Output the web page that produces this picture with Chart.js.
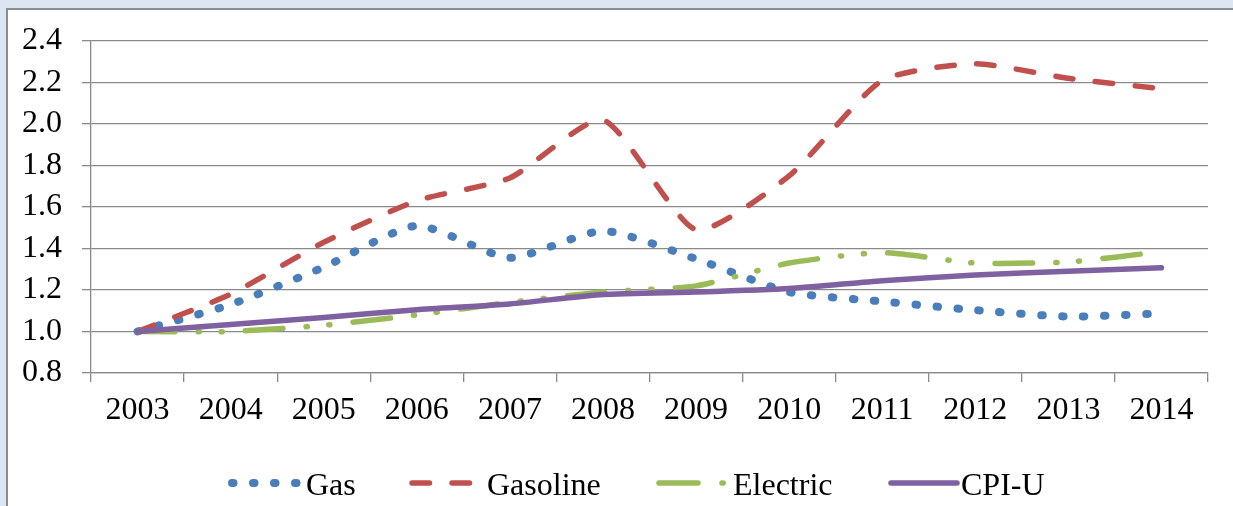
<!DOCTYPE html>
<html><head><meta charset="utf-8">
<script src="https://cdn.jsdelivr.net/npm/chart.js@4/dist/chart.umd.min.js"></script>
<style>
html,body{margin:0;padding:0;width:1233px;height:506px;overflow:hidden;background:#dce6f2;}
#panel{position:absolute;left:6px;top:8px;width:1227px;height:498px;background:#fff;border-left:2px solid #8c8c8c;border-top:2px solid #8c8c8c;box-sizing:border-box;}
canvas{position:absolute;left:0;top:0;}
</style></head><body>
<div id="panel"></div>
<canvas id="c" width="1233" height="506"></canvas>
<script>
const years = ['2003','2004','2005','2006','2007','2008','2009','2010','2011','2012','2013','2014'];
const gas = [1.00, 1.13, 1.31, 1.51, 1.355, 1.485, 1.35, 1.19, 1.145, 1.103, 1.072, 1.087];
const gasoline = [1.00, 1.18, 1.43, 1.63, 1.74, 2.02, 1.49, 1.75, 2.21, 2.29, 2.22, 2.17];
const electric = [1.00, 1.00, 1.03, 1.08, 1.14, 1.19, 1.22, 1.33, 1.38, 1.33, 1.335, 1.385];
const cpiU = [1.00, 1.034, 1.068, 1.105, 1.133, 1.178, 1.19, 1.207, 1.245, 1.272, 1.29, 1.307];
const seriesNames = ['Gas', 'Gasoline', 'Electric', 'CPI-U'];
const yTickLabels = ['0.8','1.0','1.2','1.4','1.6','1.8','2.0','2.2','2.4'];

const FONT = {family: "'Liberation Serif','Times New Roman',serif", size: 32};
const AXIS = '#8a8a8a';
const styles = [
  {color:'#4a7ebb', width:8, dash:[1.5,19.5]},
  {color:'#c0504d', width:5.5, dash:[17.5,22.5]},
  {color:'#9bbb59', width:5.5, dash:[37.5,23,1.2,21.8,1.2,23.3]},
  {color:'#7f60a0', width:5.5, dash:[]}
];

const legendPlugin = {
  id:'customLegend',
  afterDraw(chart){
    const ctx = chart.ctx;
    const items = [
      {x1:232, x2:298, tx:306, dash:[1.5,19.5]},
      {x1:412, x2:472, tx:487, dash:[17.5,22.5]},
      {x1:659, x2:725, tx:733, dash:[39,24,1.2,100]},
      {x1:891, x2:957, tx:961, dash:[]}
    ];
    const y = 483;
    items.forEach((it, i) => {
      const st = styles[i];
      ctx.save();
      ctx.strokeStyle = st.color;
      ctx.lineWidth = st.width;
      ctx.lineCap = 'round';
      ctx.setLineDash(it.dash);
      ctx.beginPath();
      ctx.moveTo(it.x1, y);
      ctx.lineTo(it.x2, y);
      ctx.stroke();
      ctx.restore();
      ctx.save();
      ctx.fillStyle = '#000';
      ctx.font = FONT.size + 'px ' + FONT.family;
      ctx.textBaseline = 'alphabetic';
      ctx.textAlign = 'left';
      ctx.fillText(seriesNames[i], it.tx, 495);
      ctx.restore();
    });
  }
};

const seriesData = [gas, gasoline, electric, cpiU];
const datasets = seriesData.map((d, i) => ({
  label: seriesNames[i],
  data: d,
  borderColor: styles[i].color,
  backgroundColor: styles[i].color,
  borderWidth: styles[i].width,
  borderDash: styles[i].dash,
  borderCapStyle: 'round',
  borderJoinStyle: 'round',
  pointRadius: 0,
  pointHoverRadius: 0,
  tension: 0.2,
  fill: false,
  order: 4 - i
}));

new Chart(document.getElementById('c'), {
  type: 'line',
  data: {labels: years, datasets},
  options: {
    responsive: false,
    animation: false,
    devicePixelRatio: 1,
    layout: {padding: {top: 41, right: 25, bottom: 0, left: 0}},
    plugins: {legend: {display: false}, tooltip: {enabled: false}},
    scales: {
      x: {
        offset: true,
        grid: {offset: true, drawOnChartArea: false, drawTicks: true, tickLength: 9, color: AXIS, lineWidth: 1.3},
        border: {color: AXIS, width: 1.3},
        ticks: {font: FONT, color: '#000', padding: 9, maxRotation: 0, autoSkip: false},
        afterFit(s){ s.height = 133; }
      },
      y: {
        min: 0.8, max: 2.4,
        grid: {color: AXIS, lineWidth: 1.3, tickLength: 9},
        border: {color: AXIS, width: 1.3},
        ticks: {stepSize: 0.2, font: FONT, color: '#000', padding: 20,
          callback: (v, i) => yTickLabels[i]},
        afterFit(s){ s.width = 91; }
      }
    }
  },
  plugins: [legendPlugin]
});
</script>
</body></html>
